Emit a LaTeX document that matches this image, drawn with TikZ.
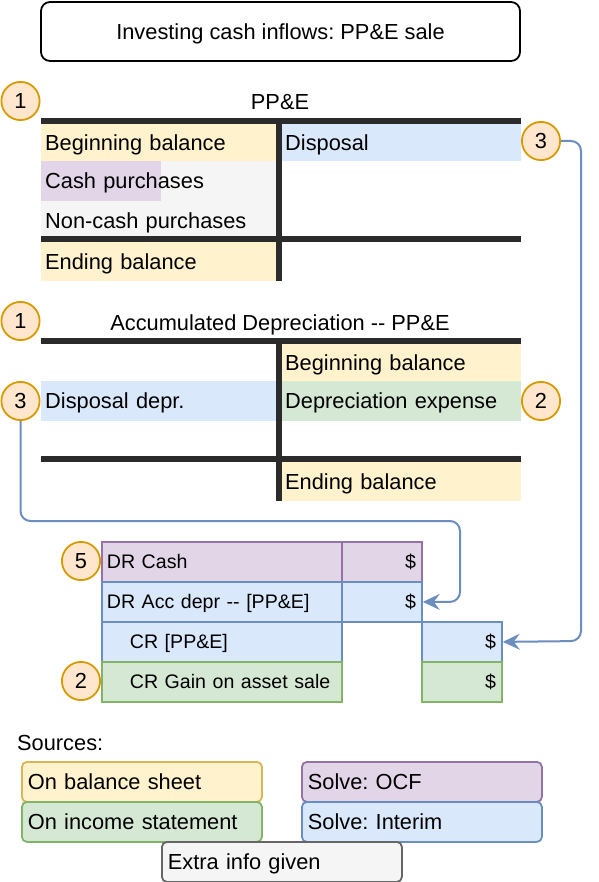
\documentclass[tikz,border=0pt]{standalone}
\usepackage{fontspec}
\setmainfont{Liberation Sans}
\frenchspacing
\usetikzlibrary{arrows.meta}
\definecolor{yelF}{HTML}{FFF2CC}\definecolor{yelD}{HTML}{D6B656}
\definecolor{grnF}{HTML}{D5E8D4}\definecolor{grnD}{HTML}{82B366}
\definecolor{purF}{HTML}{E1D5E7}\definecolor{purD}{HTML}{9673A6}
\definecolor{bluF}{HTML}{DAE8FC}\definecolor{bluD}{HTML}{6C8EBF}
\definecolor{gryF}{HTML}{F5F5F5}\definecolor{gryD}{HTML}{666666}
\definecolor{orgF}{HTML}{FFE6CC}\definecolor{orgD}{HTML}{D79B00}
\definecolor{barC}{HTML}{2B2B2B}
\newcommand\bigfnt{\fontsize{21.8}{26}\selectfont}
\newcommand\jfnt{\fontsize{19.6}{23}\selectfont}
\tikzset{
  txt/.style={font=\bigfnt, text height=15.4pt, text depth=0pt},
  cellL/.style={txt, anchor=north west, minimum width=235pt, text width=227pt, inner xsep=4pt, inner ysep=0pt, align=left},
  cellR/.style={txt, anchor=north west, minimum width=239pt, text width=233pt, inner xsep=3pt, inner ysep=0pt, align=left},
  plain/.style={anchor=north west, inner sep=0pt},
  bar/.style={draw=barC, line width=6pt, line cap=butt},
  circ/.style={circle, draw=orgD, fill=orgF, line width=1.8pt, minimum size=38.2pt, inner sep=0pt, txt},
  jlab/.style={draw, line width=1.8pt, anchor=north west, minimum width=240pt, minimum height=40pt, text width=230pt, inner xsep=5pt, inner ysep=0pt, align=left, font=\jfnt, text height=14pt, text depth=0pt},
  jamt/.style={draw, line width=1.8pt, anchor=north west, minimum width=80pt, minimum height=40pt, text width=68pt, inner xsep=6pt, inner ysep=0pt, align=right, font=\jfnt, text height=14pt, text depth=0pt},
  src/.style={draw, rounded corners=5pt, line width=1.8pt, anchor=north west, minimum width=240pt, minimum height=40pt, text width=228pt, inner xsep=6pt, inner ysep=0pt, align=left, txt},
  conn/.style={draw=bluD, line width=2pt, rounded corners=10pt, -{Stealth[length=17pt,width=16pt,inset=6pt]}},
}
\begin{document}
\begin{tikzpicture}[x=1pt,y=-1pt]
\useasboundingbox (0,0) rectangle (598,882);
% title
\node[txt, draw, rounded corners=9pt, line width=1.8pt, minimum width=479pt, minimum height=59pt, inner sep=0pt] (title) at (280.5,31.5) {Investing cash inflows: PP\&E sale};
% PP&E T-account
\node[circ] (c1a) at (20.5,101) {1};
\node[txt, inner sep=0pt] (ppeT) at (280,102) {PP\&E};
\node[plain, fill=gryF, minimum width=235pt, minimum height=78pt] (ppeGrey) at (41,161) {};
\node[plain, fill=purF, minimum width=120pt, minimum height=40pt] (ppeCPfill) at (41,161) {};
\node[cellL, fill=yelF, minimum height=37pt] (ppeBB) at (41,124) {Beginning balance};
\node[cellL, minimum height=40pt] (ppeCP) at (41,161) {Cash purchases};
\node[cellL, minimum height=40pt] (ppeNC) at (41,201) {Non-cash purchases};
\node[cellL, fill=yelF, minimum height=39pt] (ppeEB) at (41,242) {Ending balance};
\node[cellR, fill=bluF, minimum height=37pt] (ppeDi) at (282,124) {Disposal};
\draw[bar] (41,121) -- (521,121);
\draw[bar] (279,118) -- (279,281);
\draw[bar] (41,239) -- (521,239);
\node[circ] (c3a) at (541,141) {3};
% Acc depr T-account
\node[circ] (c1b) at (20.5,321) {1};
\node[txt, inner sep=0pt] (adT) at (280,322.5) {Accumulated Depreciation -{}- PP\&E};
\node[cellR, fill=yelF, minimum height=37pt] (adBB) at (282,344) {Beginning balance};
\node[cellL, fill=bluF, minimum height=40pt] (adDD) at (41,381) {Disposal depr.};
\node[cellR, fill=grnF, minimum height=40pt] (adDE) at (282,381) {Depreciation expense};
\node[cellR, fill=yelF, minimum height=39pt] (adEB) at (282,462) {Ending balance};
\draw[bar] (41,341) -- (521,341);
\draw[bar] (279,338) -- (279,501);
\draw[bar] (41,459) -- (521,459);
\node[circ] (c3b) at (20.5,401) {3};
\node[circ] (c2a) at (541,401) {2};
% journal entry
\node[jlab, draw=purD, fill=purF] (jDC) at (101,541) {DR Cash};
\node[jamt, draw=purD, fill=purF] (jDCa) at (341,541) {\$};
\node[jlab, draw=bluD, fill=bluF] (jDA) at (101,581) {DR Acc depr -{}- [PP\&E]};
\node[jamt, draw=bluD, fill=bluF] (jDAa) at (341,581) {\$};
\node[jlab, draw=bluD, fill=bluF] (jCP) at (101,621) {\hspace*{23pt}CR [PP\&E]};
\node[jamt, draw=bluD, fill=bluF] (jCPa) at (421,621) {\$};
\node[jlab, draw=grnD, fill=grnF] (jCG) at (101,661) {\hspace*{23pt}CR Gain on asset sale};
\node[jamt, draw=grnD, fill=grnF] (jCGa) at (421,661) {\$};
\node[circ] (c5) at (81,561) {5};
\node[circ] (c2b) at (81,681) {2};
% connectors
\draw[conn] (c3b.south) |- (460,521) |- (jDAa.east);
\draw[conn] (c3a.east) -| (581,641) -- (jCPa.east);
% sources
\node[txt, anchor=base west, inner sep=0pt] (srcT) at (17,750) {Sources:};
\node[src, draw=yelD, fill=yelF] (sBS) at (21,761) {On balance sheet};
\node[src, draw=grnD, fill=grnF] (sIS) at (21,801) {On income statement};
\node[src, draw=purD, fill=purF] (sOCF) at (301,761) {Solve: OCF};
\node[src, draw=bluD, fill=bluF] (sInt) at (301,801) {Solve: Interim};
\node[src, draw=gryD, fill=gryF] (sEx) at (161,841) {Extra info given};
\end{tikzpicture}
\end{document}
